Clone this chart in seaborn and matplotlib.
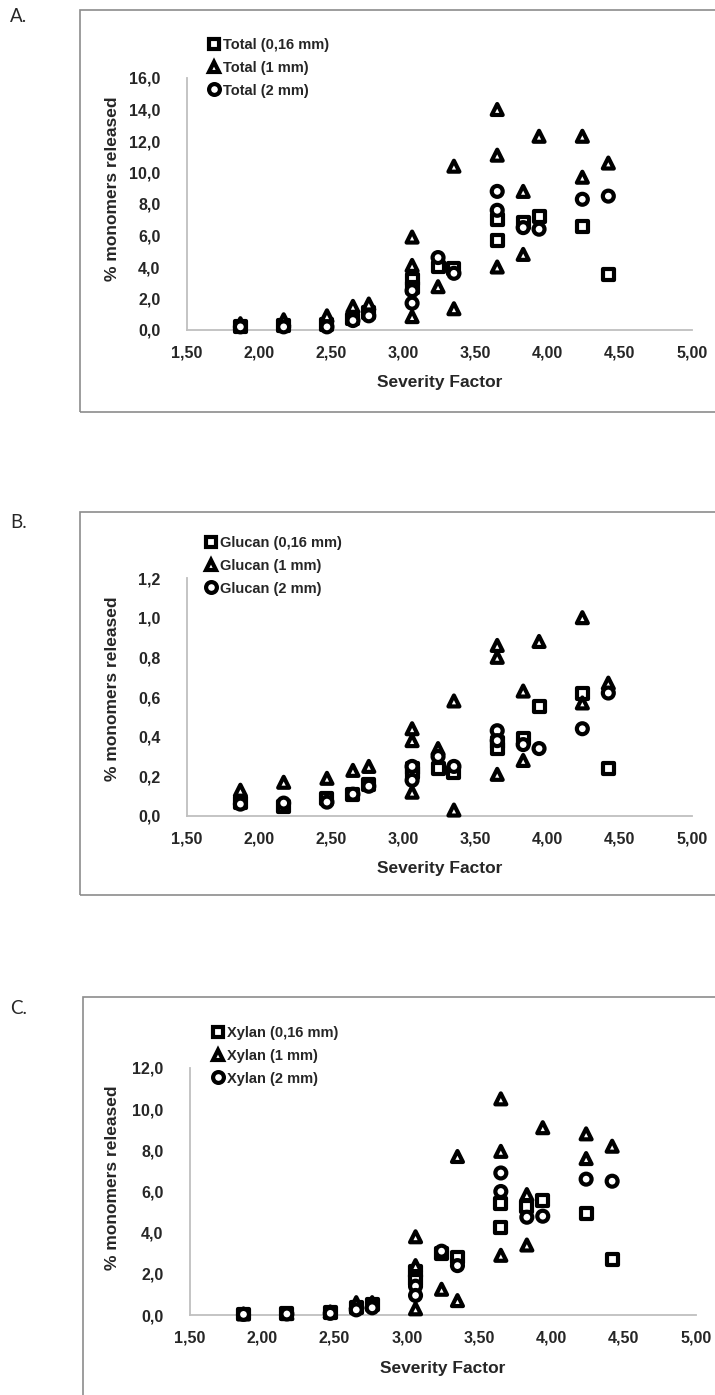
import numpy as np
import pandas as pd
import seaborn as sns
import matplotlib.pyplot as plt
from matplotlib.lines import Line2D
from matplotlib.patches import Rectangle

sns.set_style("white")
plt.rcParams['font.family'] = ['Liberation Sans', 'DejaVu Sans']
plt.rcParams['font.weight'] = 'bold'

# severity factor of each run (0,16 mm and 2 mm share the same runs)
sf_fine = [1.87, 2.17, 2.47, 2.65, 2.76, 3.06, 3.06, 3.24, 3.35, 3.65, 3.65, 3.83, 3.94, 4.24, 4.42]
sf_1mm = [1.87, 2.17, 2.47, 2.65, 2.76, 3.06, 3.06, 3.06, 3.24, 3.35, 3.35,
          3.65, 3.65, 3.65, 3.83, 3.83, 3.94, 4.24, 4.24, 4.42]
sf_2mm = sf_fine

# % monomers released
total_016 = [0.25, 0.3, 0.35, 0.7, 1.1, 3.2, 2.7, 4.0, 3.9, 7.0, 5.7, 6.8, 7.2, 6.6, 3.5]
total_1mm = [0.4, 0.65, 0.9, 1.5, 1.65, 5.9, 4.1, 0.85, 2.75, 10.4, 1.35,
             14.0, 11.1, 4.0, 8.8, 4.8, 12.3, 12.3, 9.7, 10.6]
total_2mm = [0.2, 0.2, 0.2, 0.6, 0.9, 2.5, 1.7, 4.6, 3.6, 8.8, 7.6, 6.5, 6.4, 8.3, 8.5]

glucan_016 = [0.07, 0.05, 0.09, 0.11, 0.16, 0.24, 0.22, 0.24, 0.22, 0.37, 0.34, 0.39, 0.55, 0.62, 0.24]
glucan_1mm = [0.13, 0.17, 0.19, 0.23, 0.25, 0.44, 0.38, 0.12, 0.34, 0.58, 0.03,
              0.86, 0.80, 0.21, 0.63, 0.28, 0.88, 1.00, 0.57, 0.67]
glucan_2mm = [0.06, 0.065, 0.07, 0.11, 0.15, 0.25, 0.18, 0.30, 0.25, 0.43, 0.38, 0.36, 0.34, 0.44, 0.62]

xylan_016 = [0.05, 0.07, 0.1, 0.35, 0.5, 2.1, 1.7, 3.0, 2.8, 5.4, 4.25, 5.25, 5.55, 4.95, 2.7]
xylan_1mm = [0.05, 0.07, 0.15, 0.6, 0.6, 3.8, 2.4, 0.3, 1.25, 7.7, 0.7,
             10.5, 7.95, 2.9, 5.85, 3.4, 9.1, 8.8, 7.6, 8.2]
xylan_2mm = [0.03, 0.05, 0.08, 0.25, 0.35, 1.4, 0.95, 3.1, 2.4, 6.9, 6.0, 4.75, 4.8, 6.6, 6.5]

sizes = ['0,16 mm', '1 mm', '2 mm']
x_ticks = [1.5, 2.0, 2.5, 3.0, 3.5, 4.0, 4.5, 5.0]

W, H = 715, 1395
fig = plt.figure(figsize=(W / 100, H / 100), dpi=100)


def fx(px):
    return px / W


def fy(py):
    return 1 - py / H


# pixel layout of the three panels
panels = [
    dict(tag='A.', name='Total', ys=(total_016, total_1mm, total_2mm), ymax=16, ystep=2,
         box=(80, 10, 412), ax=(187, 692, 330, 78), ylab=(112, 189), xlab=382,
         leg=(214, 47), tag_xy=(10, 17)),
    dict(tag='B.', name='Glucan', ys=(glucan_016, glucan_1mm, glucan_2mm), ymax=1.2, ystep=0.2,
         box=(80, 512, 895), ax=(187, 692, 816, 578), ylab=(112, 689), xlab=869,
         leg=(211, 545), tag_xy=(10, 523)),
    dict(tag='C.', name='Xylan', ys=(xylan_016, xylan_1mm, xylan_2mm), ymax=12, ystep=2,
         box=(83, 997, 1420), ax=(190, 696, 1315, 1068), ylab=(113, 1178), xlab=1368,
         leg=(218, 1035), tag_xy=(10, 1008)),
]

markers = ['s', '^', 'o']

for p in panels:
    bl, bt, bb = p['box']
    fig.patches.append(Rectangle((fx(bl), fy(bb)), 1.2, fy(bt) - fy(bb), transform=fig.transFigure,
                                 fill=False, edgecolor='#8c8c8c', linewidth=1.2, zorder=0))
    fig.text(fx(p['tag_xy'][0]), fy(p['tag_xy'][1]), p['tag'], family='Lato', weight='normal',
             fontsize=13.5, ha='left', va='center')

    l, r, b, t = p['ax']
    ax = fig.add_axes([fx(l), fy(b), fx(r) - fx(l), fy(t) - fy(b)])
    labels = [f"{p['name']} ({s})" for s in sizes]
    df = pd.concat([
        pd.DataFrame({'sf': sf_fine, 'val': p['ys'][0], 'series': labels[0]}),
        pd.DataFrame({'sf': sf_1mm, 'val': p['ys'][1], 'series': labels[1]}),
        pd.DataFrame({'sf': sf_2mm, 'val': p['ys'][2], 'series': labels[2]}),
    ], ignore_index=True)
    sns.scatterplot(data=df, x='sf', y='val', style='series', markers=dict(zip(labels, markers)),
                    s=62, color='white', edgecolor='black', linewidth=3.0, clip_on=False,
                    legend=False, ax=ax, zorder=3)

    ax.set_xlim(1.5, 5.0)
    ax.set_ylim(0, p['ymax'])
    ax.set_xticks(x_ticks)
    ax.set_xticklabels([f"{v:.2f}".replace('.', ',') for v in x_ticks])
    yt = np.round(np.arange(0, p['ymax'] + p['ystep'] / 2, p['ystep']), 2)
    ax.set_yticks(yt)
    ax.set_yticklabels([f"{v:.1f}".replace('.', ',') for v in yt])
    ax.tick_params(length=0, labelsize=11.5)
    ax.tick_params(axis='x', pad=11)
    ax.tick_params(axis='y', pad=19)
    for side in ['top', 'right']:
        ax.spines[side].set_visible(False)
    for side in ['left', 'bottom']:
        ax.spines[side].set_color('#bfbfbf')
        ax.spines[side].set_linewidth(1.3)
    ax.set_xlabel('')
    ax.set_ylabel('')
    ax.patch.set_alpha(0)

    fig.text(fx((l + r) / 2), fy(p['xlab']), 'Severity Factor', fontsize=12.5,
             ha='center', va='center')
    fig.text(fx(p['ylab'][0]), fy(p['ylab'][1]), '% monomers released', fontsize=12.5,
             rotation=90, ha='center', va='center')

    handles = [Line2D([], [], ls='none', marker=m, ms=7.8, mfc='white', mec='black', mew=3.0)
               for m in markers]
    lx, ly = p['leg']
    ax.legend(handles, labels, loc='upper left', bbox_to_anchor=(fx(lx - 7.5), fy(ly - 9)),
              bbox_transform=fig.transFigure, frameon=False, borderpad=0, borderaxespad=0,
              handlelength=1.0, handletextpad=0.15, labelspacing=0.6, fontsize=10.5)

fig.savefig('out.png', dpi=100)
